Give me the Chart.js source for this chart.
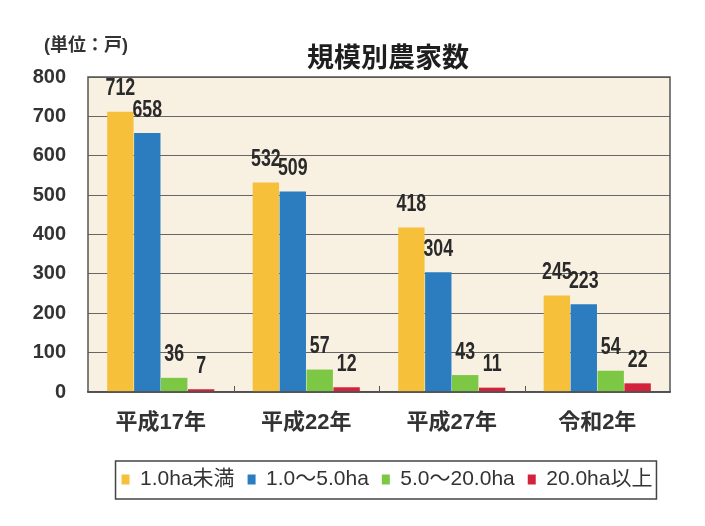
<!DOCTYPE html>
<html>
<head>
<meta charset="utf-8">
<script src="https://cdn.jsdelivr.net/npm/chart.js@4"></script>
<style>
  body{margin:0;background:#fff}
  #wrap{width:705px;height:526px}
</style>
</head>
<body>
<div id="wrap"><canvas id="myChart" width="705" height="526"></canvas></div>
<script>
//DATOS
const years=["平成17年","平成22年","平成27年","令和2年"]
const sizeClasses=["1.0ha未満","1.0～5.0ha","5.0～20.0ha","20.0ha以上"]
const under1=[712,532,418,245]
const from1to5=[658,509,304,223]
const from5to20=[36,57,43,54]
const over20=[7,12,11,22]
const yTicks=[0,100,200,300,400,500,600,700,800]

const colores=["#f6c03a","#2b7dc0","#7cc744","#d3223c"]
const fuente='"Liberation Sans","Noto Sans CJK JP",sans-serif'
const desplazLeyenda=38

//fondo, borde y etiquetas
const decoracion={
    id:"decoracion",
    afterLayout(chart){
        // la leyenda va algo a la derecha del centro
        chart.legend.left+=desplazLeyenda
        chart.legend.right+=desplazLeyenda
    },
    beforeDraw(chart){
        const {ctx,chartArea:a}=chart
        ctx.save()
        ctx.fillStyle="#f8f1e1"
        ctx.fillRect(a.left,a.top,a.right-a.left,a.bottom-a.top)
        ctx.restore()
    },
    afterDatasetsDraw(chart){
        const {ctx,chartArea:a}=chart
        const x=chart.scales.x
        ctx.save()
        // borde del area
        ctx.strokeStyle="#555"
        ctx.lineWidth=1.5
        ctx.strokeRect(a.left,a.top,a.right-a.left,a.bottom-a.top)
        // marcas entre categorias
        const paso=(x.getPixelForValue(1)-x.getPixelForValue(0))
        ctx.lineWidth=1
        for(let i=1;i<years.length;i++){
            const px=Math.round(x.getPixelForValue(i)-paso/2)+0.5
            ctx.beginPath()
            ctx.moveTo(px,a.bottom)
            ctx.lineTo(px,a.bottom-6)
            ctx.stroke()
        }
        // valores sobre las barras (letra estrecha)
        ctx.fillStyle="#2a2a2a"
        ctx.font="bold 24px "+fuente
        ctx.textAlign="center"
        ctx.textBaseline="bottom"
        chart.data.datasets.forEach((ds,i)=>{
            chart.getDatasetMeta(i).data.forEach((bar,j)=>{
                ctx.save()
                ctx.translate(bar.x,bar.y-11)
                ctx.scale(0.74,1)
                ctx.fillText(ds.data[j],0,0)
                ctx.restore()
            })
        })
        // titulo y unidad
        ctx.font="bold 27px "+fuente
        ctx.fillStyle="#1e1e1e"
        ctx.textBaseline="middle"
        ctx.fillText("規模別農家数",(a.left+a.right)/2+9,60)
        ctx.font="bold 18px "+fuente
        ctx.fillStyle="#333"
        ctx.textAlign="left"
        ctx.fillText("(単位：戸)",44,46)
        // caja de la leyenda
        const cajas=chart.legend.legendHitBoxes
        if(cajas && cajas.length){
            const izq=Math.min(...cajas.map(b=>b.left))-6
            const der=Math.max(...cajas.map(b=>b.left+b.width))+4
            const arriba=Math.min(...cajas.map(b=>b.top))-8
            const abajo=Math.max(...cajas.map(b=>b.top+b.height))+9
            ctx.strokeStyle="#444"
            ctx.lineWidth=1.5
            ctx.strokeRect(izq,arriba,der-izq,abajo-arriba)
        }
        ctx.restore()
    }
}

const datasets=[under1,from1to5,from5to20,over20].map((d,i)=>({
    label:sizeClasses[i],
    data:d,
    backgroundColor:colores[i],
    borderWidth:0,
    categoryPercentage:0.74,
    barPercentage:0.98
}))

const config={
    type:"bar",
    data:{labels:years,datasets},
    options:{
        responsive:false,
        animation:false,
        layout:{padding:{left:28,right:35,top:77,bottom:26}},
        scales:{
            x:{
                grid:{display:false},
                border:{color:"#444",width:1.5},
                afterFit(axis){axis.height=64},
                ticks:{color:"#333",padding:10,font:{family:fuente,size:22,weight:"bold"}}
            },
            y:{
                min:0,max:800,
                afterBuildTicks(axis){axis.ticks=yTicks.map(v=>({value:v}))},
                afterFit(axis){axis.width=60},
                grid:{color:"#666",lineWidth:1,drawTicks:false},
                border:{display:false},
                ticks:{color:"#333",padding:22,font:{family:fuente,size:20,weight:"bold"}}
            }
        },
        plugins:{
            legend:{
                position:"bottom",
                labels:{
                    boxWidth:8,boxHeight:10,padding:13,
                    color:"#333",
                    font:{family:fuente,size:21}
                }
            },
            tooltip:{enabled:false}
        }
    },
    plugins:[decoracion]
}

const myChart=document.querySelector("#myChart")
myChart.chart=new Chart(myChart,config)
</script>
</body>
</html>
